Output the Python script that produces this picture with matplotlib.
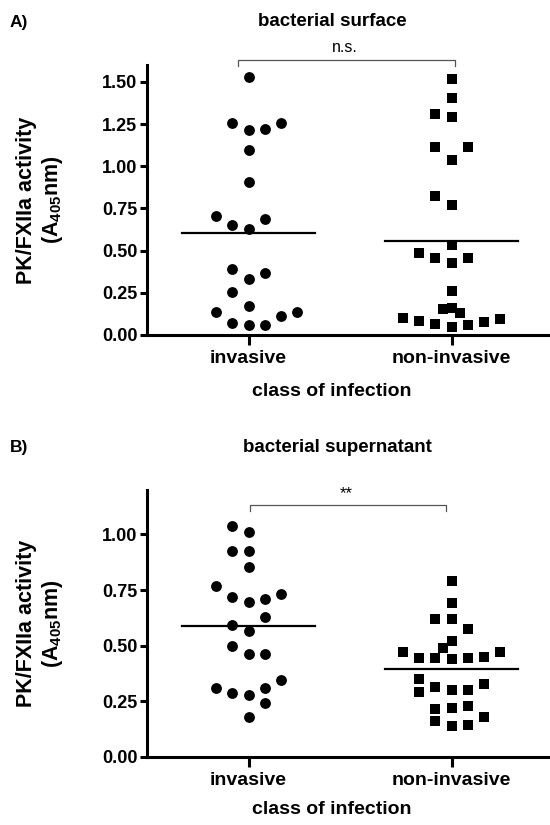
import matplotlib
matplotlib.use("Agg")
import matplotlib.pyplot as plt
import numpy as np

plt.rcParams['font.family'] = ['Liberation Sans', 'DejaVu Sans']
plt.rcParams['mathtext.fontset'] = 'custom'
plt.rcParams['mathtext.rm'] = 'Liberation Sans:bold'
plt.rcParams['mathtext.bf'] = 'Liberation Sans:bold'

categories = ["invasive", "non-invasive"]

# panel A - bacterial surface
surf_inv = [1.53, 1.254, 1.214, 1.22, 1.254, 1.096, 0.905, 0.707, 0.652, 0.626,
            0.685, 0.391, 0.33, 0.369, 0.253, 0.172, 0.138, 0.114, 0.138,
            0.069, 0.059, 0.059]
surf_inv_slot = [0, -1, 0, 1, 2, 0, 0, -2, -1, 0,
                 1, -1, 0, 1, -1, 0, -2, 2, 3,
                 -1, 0, 1]
surf_non = [1.517, 1.402, 1.309, 1.293, 1.116, 1.112, 1.037, 0.823, 0.77, 0.533,
            0.488, 0.454, 0.425, 0.454, 0.261, 0.152, 0.158, 0.129, 0.099,
            0.083, 0.063, 0.049, 0.059, 0.075, 0.095]
surf_non_slot = [0, 0, -1, 0, -1, 1, 0, -1, 0, 0,
                 -2, -1, 0, 1, 0, -0.5, 0, 0.5, -3,
                 -2, -1, 0, 1, 2, 3]

# panel B - bacterial supernatant
sup_inv = [1.039, 1.012, 0.925, 0.926, 0.852, 0.769, 0.719, 0.697, 0.709, 0.732,
           0.63, 0.592, 0.567, 0.498, 0.462, 0.462, 0.31, 0.285, 0.277, 0.307,
           0.345, 0.243, 0.18]
sup_inv_slot = [-1, 0, -1, 0, 0, -2, -1, 0, 1, 2,
                1, -1, 0, -1, 0, 1, -2, -1, 0, 1,
                2, 1, 0]
sup_non = [0.791, 0.692, 0.619, 0.619, 0.573, 0.52, 0.487, 0.469, 0.445, 0.442,
           0.439, 0.442, 0.45, 0.469, 0.348, 0.292, 0.315, 0.3, 0.3, 0.327,
           0.215, 0.22, 0.229, 0.162, 0.18, 0.138, 0.142]
sup_non_slot = [0, 0, -1, 0, 1, 0, -0.5, -3, -2, -1,
                0, 1, 2, 3, -2, -2, -1, 0, 1, 2,
                -1, 0, 1, -1, 2, 0, 1]

yticks_a = [0.0, 0.25, 0.5, 0.75, 1.0, 1.25, 1.5]
yticks_b = [0.0, 0.25, 0.5, 0.75, 1.0]

step = 0.08
ylabel = "PK/FXIIa activity\n(A$_{405}$nm)"

fig = plt.figure(figsize=(5.5, 8.25), dpi=100)


def panel(rect, inv, inv_slot, non, non_slot, ylim, yticks):
    ax = fig.add_axes(rect)
    ax.scatter(0 + step * np.array(inv_slot), inv, marker="o", s=7.8 ** 2,
               color="black", linewidths=0, zorder=3)
    ax.scatter(1 + step * np.array(non_slot), non, marker="s", s=7.8 ** 2,
               color="black", linewidths=0, zorder=3)
    # mean lines
    for i, vals in enumerate([inv, non]):
        ax.plot([i - 0.33, i + 0.33], [np.mean(vals)] * 2, color="black",
                lw=1.6, zorder=2)
    ax.set_xlim(-0.5, 1.48)
    ax.set_ylim(*ylim)
    ax.set_xticks([0, 1])
    ax.set_xticklabels(categories, fontsize=14, fontweight="bold")
    ax.set_yticks(yticks)
    ax.set_yticklabels([f"{t:.2f}" for t in yticks], fontsize=13,
                       fontweight="bold")
    for s in ["top", "right"]:
        ax.spines[s].set_visible(False)
    for s in ["left", "bottom"]:
        ax.spines[s].set_linewidth(2.2)
    ax.tick_params(width=2.2, length=5, pad=2)
    ax.tick_params(axis="x", length=7, pad=4)
    ax.set_ylabel(ylabel, fontsize=15.5, fontweight="bold", linespacing=1.15)
    ax.yaxis.set_label_coords(-0.205, 0.5)
    return ax


ax1 = panel([147 / 550, 1 - 335 / 825, 1.98 * 203 / 550, 270 / 825],
            surf_inv, surf_inv_slot, surf_non, surf_non_slot, (0, 1.6), yticks_a)
ax2 = panel([147 / 550, 1 - 756.7 / 825, 1.98 * 203 / 550, 266.7 / 825],
            sup_inv, sup_inv_slot, sup_non, sup_non_slot, (0, 1.2), yticks_b)

# significance brackets
ax1.plot([-0.05, -0.05, 0.015 + 1, 0.015 + 1], [1.595, 1.63, 1.63, 1.595],
         color="#555555", lw=0.9, clip_on=False)
ax2.plot([0.006, 0.006, 0.974, 0.974], [1.105, 1.134, 1.134, 1.105],
         color="#555555", lw=0.9, clip_on=False)

fig.text(10 / 550, 1 - 22 / 825, "A)", fontsize=12.5, fontweight="bold",
         va="center", ha="left")
fig.text(10 / 550, 1 - 447 / 825, "B)", fontsize=12.5, fontweight="bold",
         va="center", ha="left")
fig.text(332 / 550, 1 - 22 / 825, "bacterial surface", fontsize=13.5,
         fontweight="bold", ha="center", va="center")
fig.text(337 / 550, 1 - 447 / 825, "bacterial supernatant", fontsize=13.5,
         fontweight="bold", ha="center", va="center")
fig.text(345 / 550, 1 - 47 / 825, "n.s.", fontsize=11.5, ha="center",
         va="center")
fig.text(346 / 550, 1 - 494 / 825, "**", fontsize=12, ha="center",
         va="center")
fig.text(332 / 550, 1 - 392 / 825, "class of infection", fontsize=14,
         fontweight="bold", ha="center", va="center")
fig.text(332 / 550, 1 - 810 / 825, "class of infection", fontsize=14,
         fontweight="bold", ha="center", va="center")

fig.savefig("out.png", dpi=100)
